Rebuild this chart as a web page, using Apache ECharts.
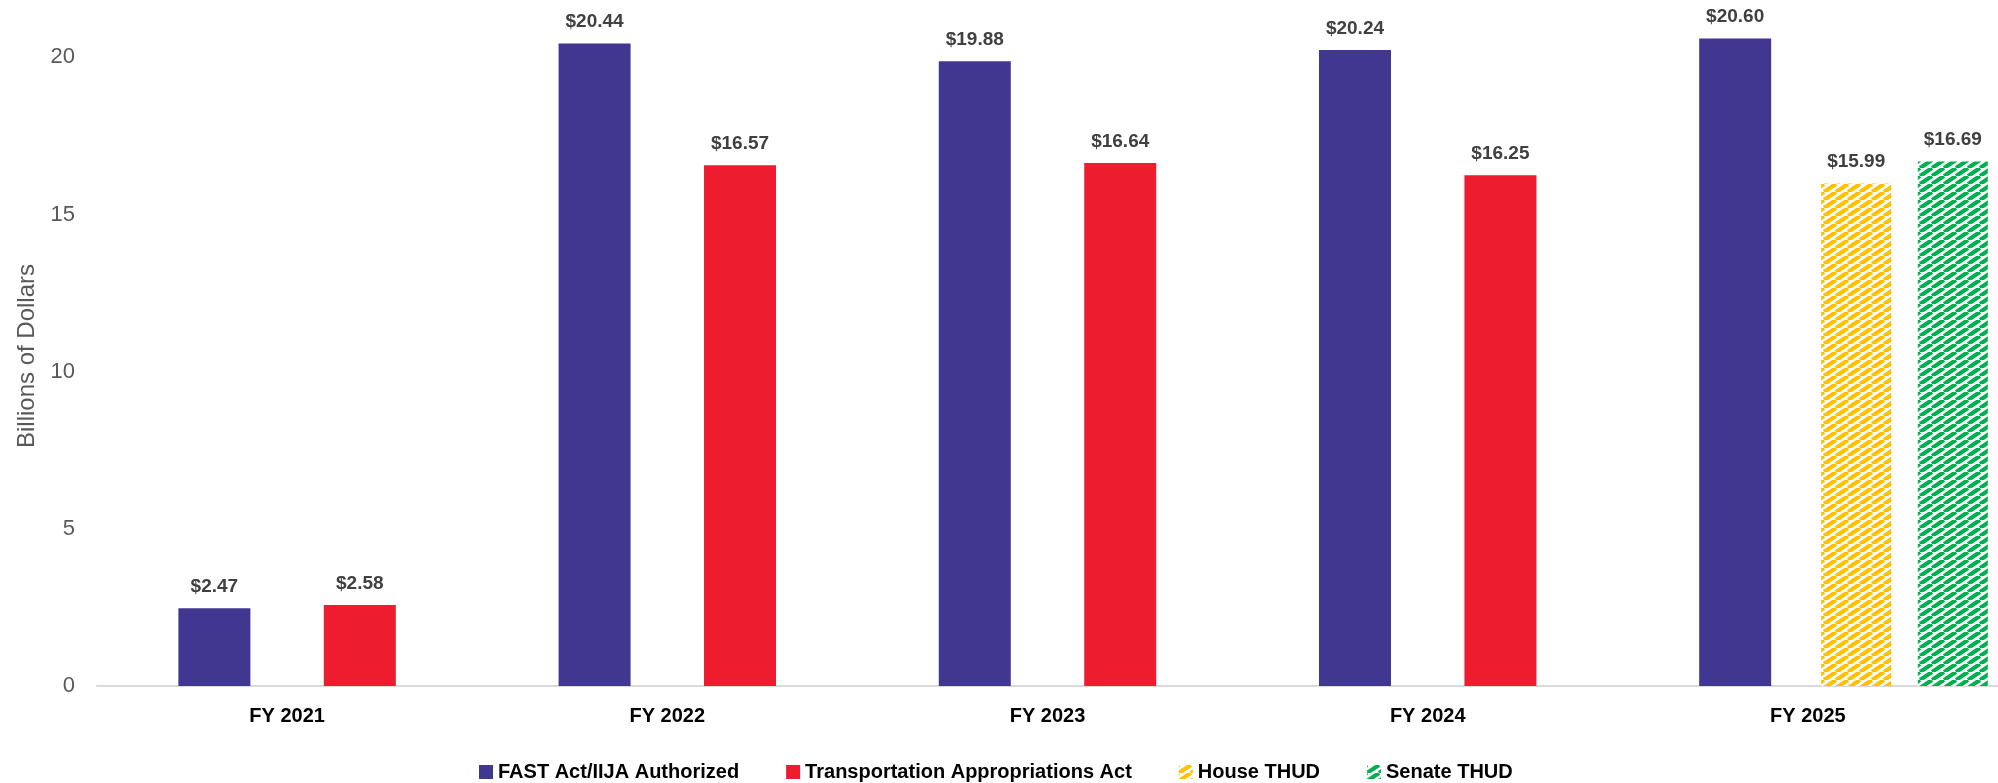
<!DOCTYPE html>
<html>
<head>
<meta charset="utf-8">
<script src="https://cdn.jsdelivr.net/npm/echarts@6/dist/echarts.min.js"></script>
<style>
  html, body { margin: 0; padding: 0; background: #fff; }
  #chart { width: 1998px; height: 783px; }
</style>
</head>
<body>
<div id="chart"></div>
<script>
const categories = ['FY 2021', 'FY 2022', 'FY 2023', 'FY 2024', 'FY 2025']
const authorized = [2.47, 20.44, 19.88, 20.24, 20.60]
const appropriations = [2.58, 16.57, 16.64, 16.25, null]
const houseThud = [null, null, null, null, 15.99]
const senateThud = [null, null, null, null, 16.69]
const emptySlot = [null, null, null, null, null]

const seriesNames = ['FAST Act/IIJA Authorized', 'Transportation Appropriations Act', 'House THUD', 'Senate THUD']

// diagonal stripe fill like the excel "wide upward diagonal"
const stripes = (color) => {
  const w = 12, h = 8
  const c = document.createElement('canvas')
  c.width = w
  c.height = h
  const ctx = c.getContext('2d')
  ctx.fillStyle = '#fff'
  ctx.fillRect(0, 0, w, h)
  ctx.strokeStyle = color
  ctx.lineWidth = 4.2
  for (let k = -1; k <= 1; k++) {
    ctx.beginPath()
    ctx.moveTo(k * w, h)
    ctx.lineTo((k + 1) * w, 0)
    ctx.stroke()
  }
  return { image: c, repeat: 'repeat' }
}

const dataLabel = {
  show: true,
  position: 'top',
  distance: 12,
  color: '#404040',
  fontFamily: 'Liberation Sans',
  fontWeight: 'bold',
  fontSize: 19,
  formatter: (p) => '$' + p.value.toFixed(2)
}

const chart = echarts.init(document.getElementById('chart'))

chart.setOption({
  animation: false,
  grid: { left: 97, right: 0, top: 26, bottom: 97, containLabel: false },
  legend: {
    data: seriesNames,
    top: 757,
    left: 474,
    itemWidth: 14,
    itemHeight: 14,
    itemGap: 47,
    icon: 'rect',
    textStyle: { fontFamily: 'Liberation Sans', fontWeight: 'bold', fontSize: 20, color: '#000' }
  },
  xAxis: [{
    type: 'category',
    data: categories,
    axisLine: { show: true, lineStyle: { color: '#d9d9d9', width: 2 } },
    axisTick: { show: false },
    axisLabel: {
      margin: 20,
      color: '#000',
      fontFamily: 'Liberation Sans',
      fontWeight: 'bold',
      fontSize: 20
    }
  }, {
    type: 'category',
    data: categories,
    show: false
  }],
  yAxis: {
    type: 'value',
    min: 0,
    max: 21,
    interval: 5,
    name: 'Billions of Dollars',
    nameLocation: 'middle',
    nameGap: 55,
    nameTextStyle: { fontFamily: 'Liberation Sans', fontSize: 24, color: '#595959' },
    axisLine: { show: false },
    axisTick: { show: false },
    splitLine: { show: false },
    axisLabel: {
      margin: 22,
      color: '#595959',
      fontFamily: 'Liberation Sans',
      fontSize: 22,
      formatter: (v) => (v % 5 === 0 ? String(v) : '')
    }
  },
  series: [
    {
      name: seriesNames[0], type: 'bar', xAxisIndex: 0,
      data: authorized, barWidth: 72, barGap: '102%',
      itemStyle: { color: '#413791' }, label: dataLabel
    },
    {
      name: seriesNames[1], type: 'bar', xAxisIndex: 0,
      data: appropriations, barWidth: 72, barGap: '102%',
      itemStyle: { color: '#ed1c2e' }, label: dataLabel
    },
    // two empty slots so the THUD bars sit to the right of the category centre
    { type: 'bar', xAxisIndex: 1, data: emptySlot, barWidth: 70, barGap: '38%' },
    { type: 'bar', xAxisIndex: 1, data: emptySlot, barWidth: 70, barGap: '38%' },
    {
      name: seriesNames[2], type: 'bar', xAxisIndex: 1,
      data: houseThud, barWidth: 70, barGap: '38%',
      itemStyle: { color: stripes('#ffc000') }, label: dataLabel
    },
    {
      name: seriesNames[3], type: 'bar', xAxisIndex: 1,
      data: senateThud, barWidth: 70, barGap: '38%',
      itemStyle: { color: stripes('#00b050') }, label: dataLabel
    }
  ]
})
</script>
</body>
</html>
